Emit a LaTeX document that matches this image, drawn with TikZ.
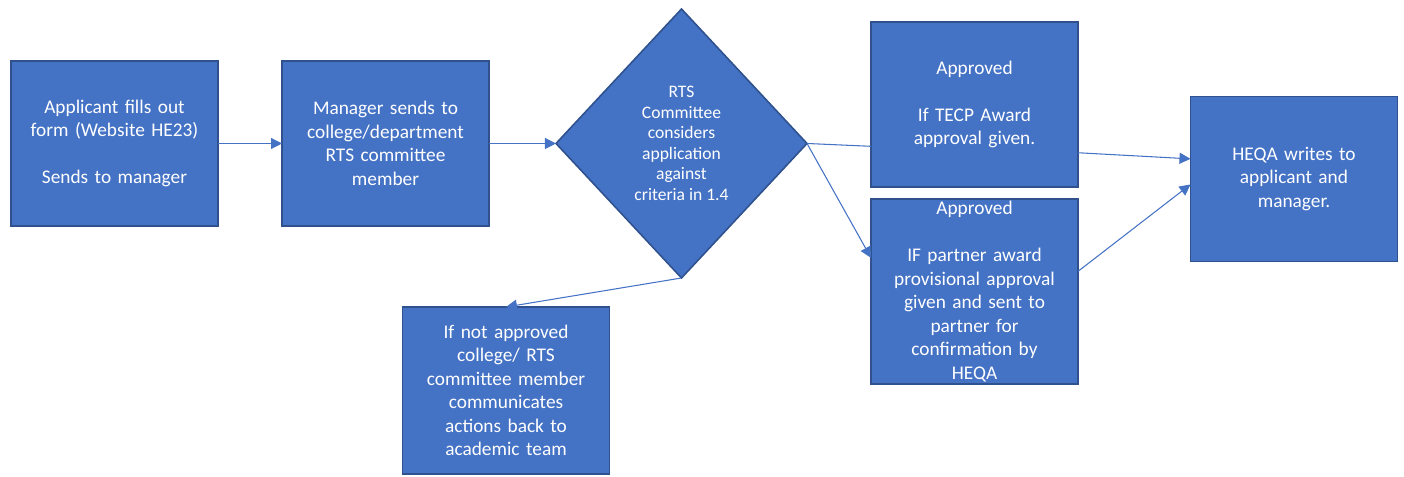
\documentclass[tikz,border=0pt]{standalone}
\usepackage{fontspec}
\setmainfont{Carlito}
\usepackage{tikz}
\usetikzlibrary{arrows.meta,positioning,shapes.geometric}
\definecolor{boksblaa}{HTML}{4472C4}
\definecolor{kantblaa}{HTML}{2F528F}
\tikzset{
    %Define standard arrow tip
    >={Triangle[length=0.22cm,width=0.22cm]},
    %Define style for boxes
    boks/.style={
           rectangle,
           fill=boksblaa,
           draw=kantblaa, line width=0.9pt,
           text=white,
           font=\fontsize{11}{13.4}\selectfont,
           text width=3.9cm,
           minimum width=4.14cm,
           minimum height=3.3cm,
           inner sep=0pt, outer sep=0pt,
           align=center},
    %Define style for the decision
    ruter/.style={
           diamond,
           fill=boksblaa,
           draw=kantblaa, line width=0.9pt,
           text=white,
           font=\fontsize{10}{11.7}\selectfont,
           minimum width=5.02cm,
           minimum height=5.38cm,
           inner sep=0pt, outer sep=0pt,
           align=center},
    % Define arrow style
    linje/.style={
           draw=boksblaa,
           line width=0.6pt}
}
\begin{document}
\begin{tikzpicture}[node distance=1.28cm]
\useasboundingbox (0,0) rectangle (28.08,9.54);
\node[boks](1) at (2.29,6.67){Applicant fills out\\ form (Website HE23)\\[13.4pt] Sends to manager};
\node[boks, right=1.28cm of 1](2){Manager sends to\\ college/department\\ RTS committee\\ member};
\node[ruter, right=1.34cm of 2](3){RTS\\ Committee\\ considers\\ application\\ against\\ criteria in 1.4};
\node[boks, right=1.28cm of 3.east, yshift=0.78cm](4){Approved\\[13.4pt] If TECP Award\\ approval given.};
\node[boks, below=0.24cm of 4, minimum height=3.7cm](5){Approved\\[13.4pt] IF partner award\\ provisional approval\\ given and sent to\\ partner for\\ confirmation by\\ HEQA};
\node[boks](6) at (25.88,5.96){HEQA writes to\\ applicant and\\ manager.};
\node[boks, minimum height=3.34cm](7) at (10.12,1.73){If not approved\\ college/ RTS\\ committee member\\ communicates\\ actions back to\\ academic team};
\draw[linje,->] (1) -- (2);
\draw[linje,->] (2) -- (3);
\draw[linje] (3.east) -- (4.202);
\draw[linje,->] (3.east) -- (5.162);
\draw[linje,->] (3.south) -- (7.north);
\draw[linje,->] (4.-25) -- (6.169);
\draw[linje,->] (5.11) -- (6.183);
\end{tikzpicture}
\end{document}
